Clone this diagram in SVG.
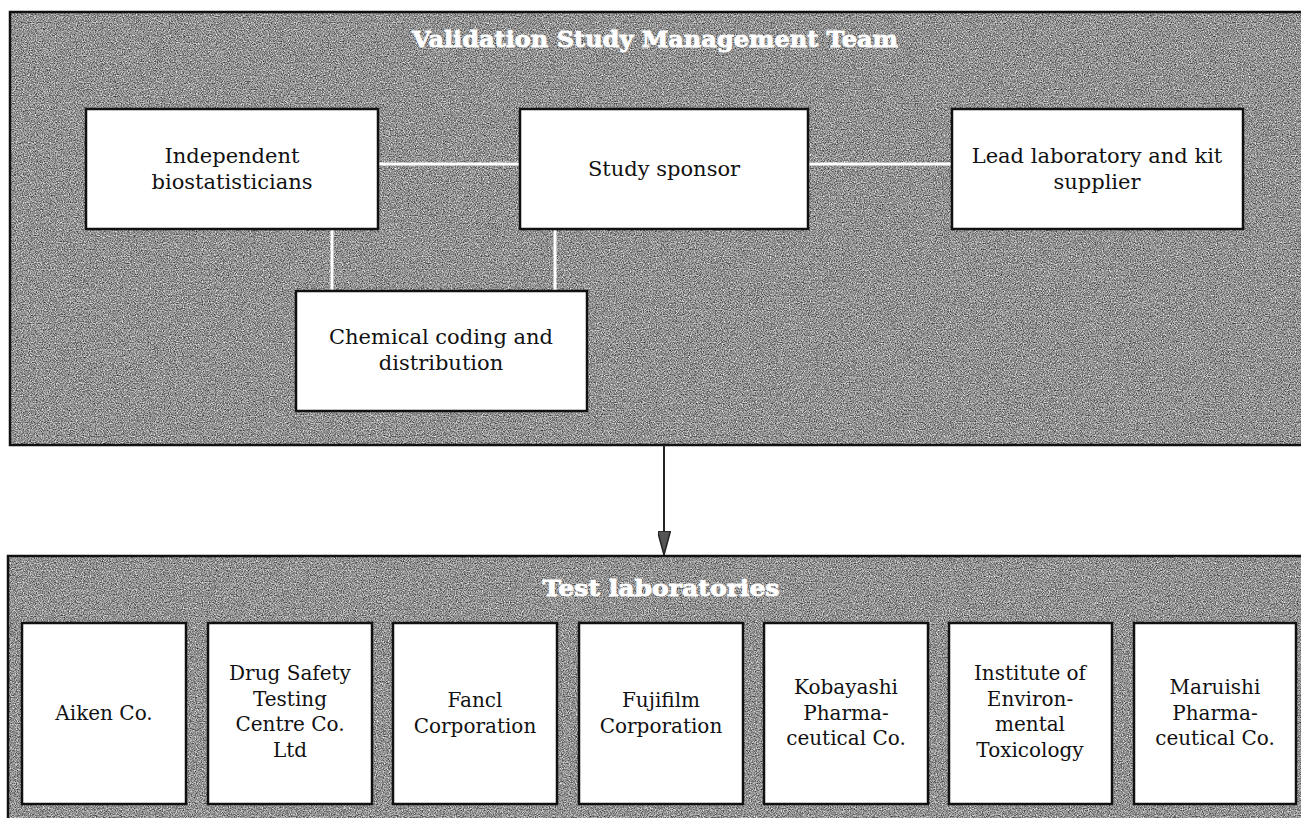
<svg xmlns="http://www.w3.org/2000/svg" width="1301" height="818" viewBox="0 0 1301 818">
<defs>
<filter id="grain" x="0" y="0" width="100%" height="100%" filterUnits="objectBoundingBox" color-interpolation-filters="sRGB">
<feTurbulence type="fractalNoise" baseFrequency="0.85" numOctaves="2" seed="7" result="n"/>
<feColorMatrix in="n" type="matrix" values="1.1 0 0 0 0.02  1.1 0 0 0 0.02  1.1 0 0 0 0.02  0 0 0 0 1" result="g"/>
<feComposite in="g" in2="SourceAlpha" operator="in"/>
</filter>
<marker id="arr" viewBox="0 0 24 13" refX="24" refY="6.5" markerWidth="24" markerHeight="13" markerUnits="userSpaceOnUse" orient="auto">
<path d="M0,0 L24,6.5 L0,13 Z" fill="#555" stroke="#222" stroke-width="1.5"/>
</marker>
</defs>
<style>
.panel{fill:#8c8c8c;}
.pborder{fill:none;stroke:#111;stroke-width:2.5;}
.box{fill:#fff;stroke:#111;stroke-width:2.5;}
.lbl{font-family:"DejaVu Serif","Liberation Serif",serif;font-size:21px;fill:#111;text-anchor:middle;}
.lbl2{font-family:"DejaVu Serif","Liberation Serif",serif;font-size:20px;fill:#111;text-anchor:middle;}
.title{font-family:"DejaVu Serif","Liberation Serif",serif;font-weight:bold;font-size:23px;fill:#fff;stroke:#fff;stroke-width:0.8;text-anchor:middle;}
.wire{stroke:#fff;stroke-width:3;fill:none;}
</style>
<rect width="1301" height="818" fill="#fff"/>

<g id="team-panel">
<rect class="panel" x="10" y="12" width="1300" height="433" filter="url(#grain)"/>
<rect class="pborder" x="10" y="12" width="1300" height="433"/>
<text class="title" x="655" y="47" textLength="486" lengthAdjust="spacingAndGlyphs">Validation Study Management Team</text>
</g>

<g id="labs-panel">
<rect class="panel" x="8" y="556" width="1300" height="270" filter="url(#grain)"/>
<rect class="pborder" x="8" y="556" width="1300" height="270"/>
<text class="title" x="661" y="596" textLength="237" lengthAdjust="spacingAndGlyphs">Test laboratories</text>
</g>

<g id="connectors">
<line class="wire" x1="378" y1="164" x2="520" y2="164"/>
<line class="wire" x1="808" y1="164" x2="952" y2="164"/>
<line class="wire" x1="332" y1="229" x2="332" y2="291"/>
<line class="wire" x1="555" y1="229" x2="555" y2="291"/>
<line x1="664" y1="445" x2="664" y2="555" stroke="#222" stroke-width="2" marker-end="url(#arr)"/>
</g>

<g id="biostatisticians">
<rect class="box" x="86" y="109" width="292" height="120"/>
<text class="lbl" x="232" y="163">Independent</text>
<text class="lbl" x="232" y="189">biostatisticians</text>
</g>
<g id="sponsor">
<rect class="box" x="520" y="109" width="288" height="120"/>
<text class="lbl" x="664" y="176">Study sponsor</text>
</g>
<g id="lead-lab">
<rect class="box" x="952" y="109" width="291" height="120"/>
<text class="lbl" x="1097" y="163">Lead laboratory and kit</text>
<text class="lbl" x="1097" y="189">supplier</text>
</g>
<g id="chemical-coding">
<rect class="box" x="296" y="291" width="291" height="120"/>
<text class="lbl" x="441" y="344">Chemical coding and</text>
<text class="lbl" x="441" y="370">distribution</text>
</g>

<g id="aiken">
<rect class="box" x="22" y="623" width="164" height="181"/>
<text class="lbl2" x="104" y="720">Aiken Co.</text>
</g>
<g id="drug-safety">
<rect class="box" x="208" y="623" width="164" height="181"/>
<text class="lbl2" x="290" y="680">Drug Safety</text>
<text class="lbl2" x="290" y="705.5">Testing</text>
<text class="lbl2" x="290" y="731">Centre Co.</text>
<text class="lbl2" x="290" y="756.5">Ltd</text>
</g>
<g id="fancl">
<rect class="box" x="393" y="623" width="164" height="181"/>
<text class="lbl2" x="475" y="707">Fancl</text>
<text class="lbl2" x="475" y="733">Corporation</text>
</g>
<g id="fujifilm">
<rect class="box" x="579" y="623" width="164" height="181"/>
<text class="lbl2" x="661" y="707">Fujifilm</text>
<text class="lbl2" x="661" y="733">Corporation</text>
</g>
<g id="kobayashi">
<rect class="box" x="764" y="623" width="164" height="181"/>
<text class="lbl2" x="846" y="694">Kobayashi</text>
<text class="lbl2" x="846" y="720">Pharma-</text>
<text class="lbl2" x="846" y="745">ceutical Co.</text>
</g>
<g id="iet">
<rect class="box" x="949" y="623" width="163" height="181"/>
<text class="lbl2" x="1030" y="680">Institute of</text>
<text class="lbl2" x="1030" y="705.5">Environ-</text>
<text class="lbl2" x="1030" y="731">mental</text>
<text class="lbl2" x="1030" y="756.5">Toxicology</text>
</g>
<g id="maruishi">
<rect class="box" x="1134" y="623" width="162" height="181"/>
<text class="lbl2" x="1215" y="694">Maruishi</text>
<text class="lbl2" x="1215" y="720">Pharma-</text>
<text class="lbl2" x="1215" y="745">ceutical Co.</text>
</g>
</svg>
